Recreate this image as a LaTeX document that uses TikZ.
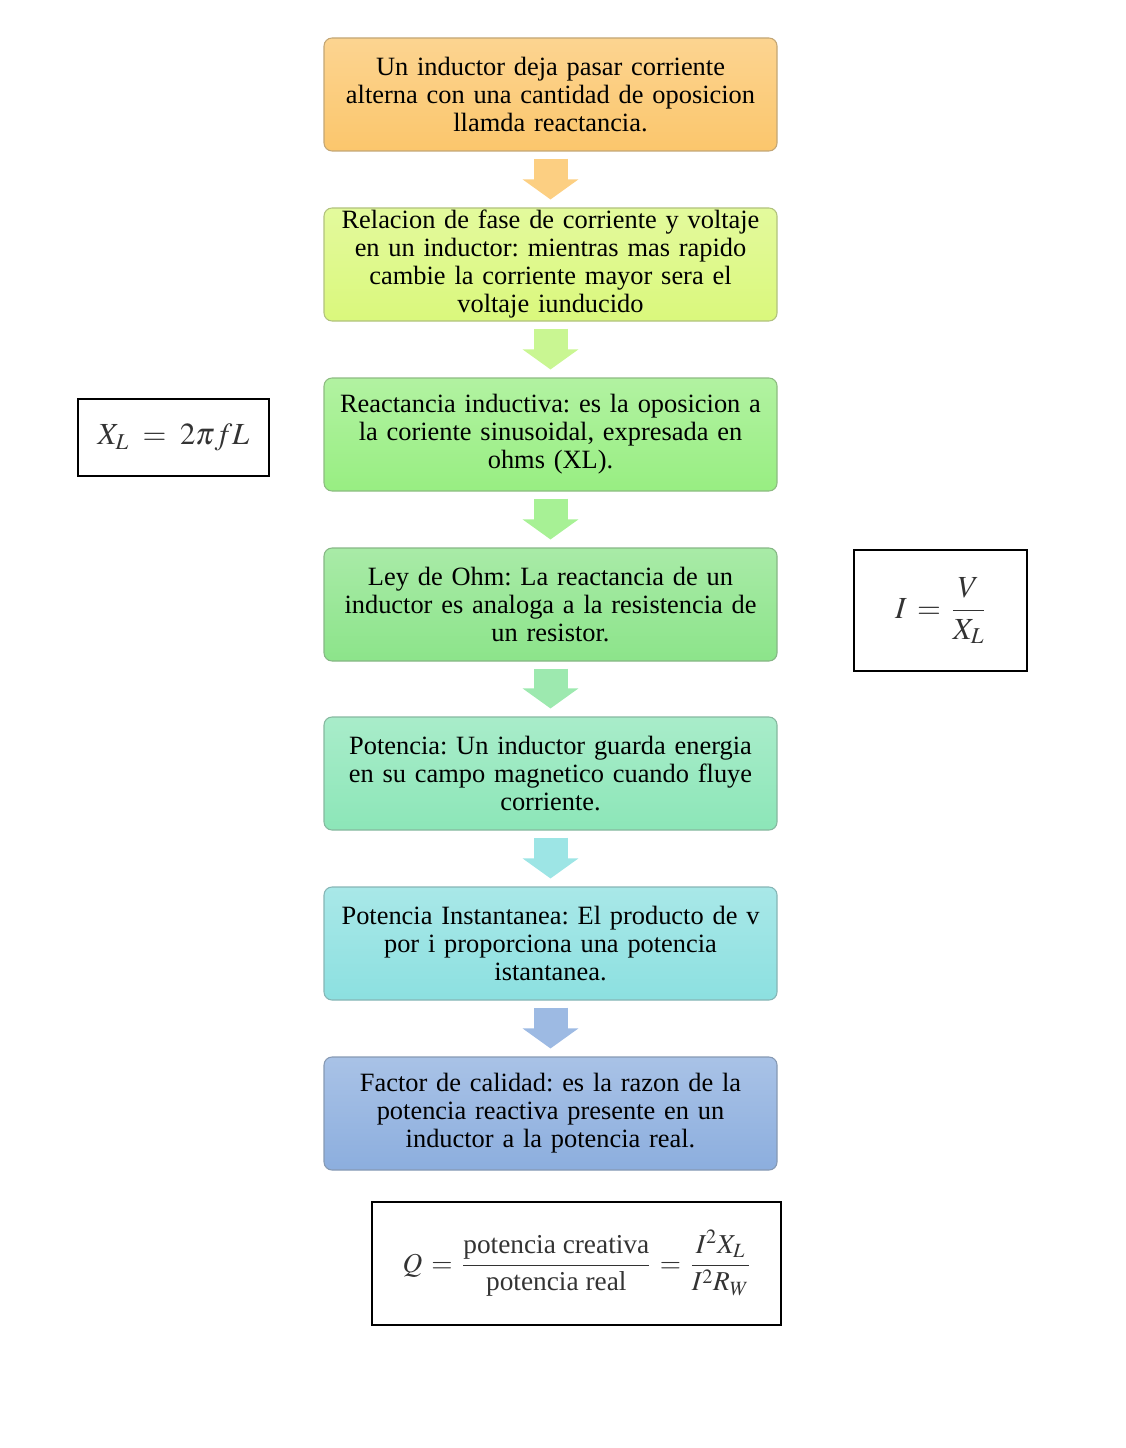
\documentclass[tikz,border=0pt]{standalone}
\usepackage{amsmath}
\usepackage{mathptmx}
\usepackage[no-math]{fontspec}
\setmainfont{Liberation Serif}
\frenchspacing
\usetikzlibrary{arrows.meta}
\definecolor{cuno}{HTML}{FBC66C}
\definecolor{cdos}{HTML}{DAF87C}
\definecolor{ctres}{HTML}{98EE82}
\definecolor{ccuatro}{HTML}{8CE48A}
\definecolor{ccinco}{HTML}{8CE6B8}
\definecolor{cseis}{HTML}{8CE0E0}
\definecolor{csiete}{HTML}{8CAEDE}
\tikzset{
  paso/.style={rounded corners=6pt, draw=#1!55!gray, line width=0.8pt,
    top color=#1!75!white, bottom color=#1, minimum width=339.75pt,
    minimum height=84.75pt, text width=336pt, align=center, inner sep=0pt,
    text=black, font=\fontsize{19.8}{21}\selectfont},
  flecha/.style={draw=#1!85!white, line width=25.5pt,
    -{Triangle[width=41pt,length=15pt]}, shorten <=5.25pt, shorten >=6pt},
  formula/.style={draw, line width=0.9pt, inner sep=0pt, text=black!80}
}
\newcommand{\recuadro}[5]{\node[formula, minimum width=#3, minimum height=#4] (#1) at (#2) {#5};}

\begin{document}
\begin{tikzpicture}[x=0.75pt,y=-0.75pt]
  \useasboundingbox (0,0) rectangle (1125,1448);
  % pasos
  \node[paso=cuno] (p1) at (550.5,94.5) {Un inductor deja pasar corriente\\alterna con una cantidad de oposicion\\llamda reactancia.};
  \node[paso=cdos] (p2) at (550.5,264.5) {Relacion de fase de corriente y voltaje\\en un inductor: mientras mas rapido\\cambie la corriente mayor sera el\\voltaje iunducido};
  \node[paso=ctres] (p3) at (550.5,434.5) {Reactancia inductiva: es la oposicion a\\la coriente sinusoidal, expresada en\\ohms (XL).};
  \node[paso=ccuatro] (p4) at (550.5,604.5) {Ley de Ohm: La reactancia de un\\inductor es analoga a la resistencia de\\un resistor.};
  \node[paso=ccinco] (p5) at (550.5,773.5) {Potencia: Un inductor guarda energia\\en su campo magnetico cuando fluye\\corriente.};
  \node[paso=cseis] (p6) at (550.5,943.5) {Potencia Instantanea: El producto de v\\por i proporciona una potencia\\istantanea.};
  \node[paso=csiete] (p7) at (550.5,1113.5) {Factor de calidad: es la razon de la\\potencia reactiva presente en un\\inductor a la potencia real.};
  % flechas
  \foreach \a/\b/\c in {p1/p2/cuno, p2/p3/cdos!60!ctres, p3/p4/ctres,
                        p4/p5/ccuatro!50!ccinco, p5/p6/cseis, p6/p7/csiete}
    \draw[flecha=\c] (\a.south) -- (\b.north);
  % formulas
  \recuadro{fxl}{173.5,437.5}{143.25pt}{57.75pt}{\fontsize{23}{26}\selectfont$X_L \;=\; 2\pi fL$}
  \recuadro{fi}{940.5,610.5}{129.75pt}{90.75pt}{\fontsize{23}{26}\selectfont$I \,=\, \dfrac{V}{X_L}$}
  \recuadro{fq}{576.5,1263.5}{306.75pt}{92.25pt}{\fontsize{20.5}{24}\selectfont$Q \,=\, \dfrac{\text{potencia creativa}}{\text{potencia real}} \,=\, \dfrac{I^2X_L}{I^2R_W}$}
\end{tikzpicture}
\end{document}
